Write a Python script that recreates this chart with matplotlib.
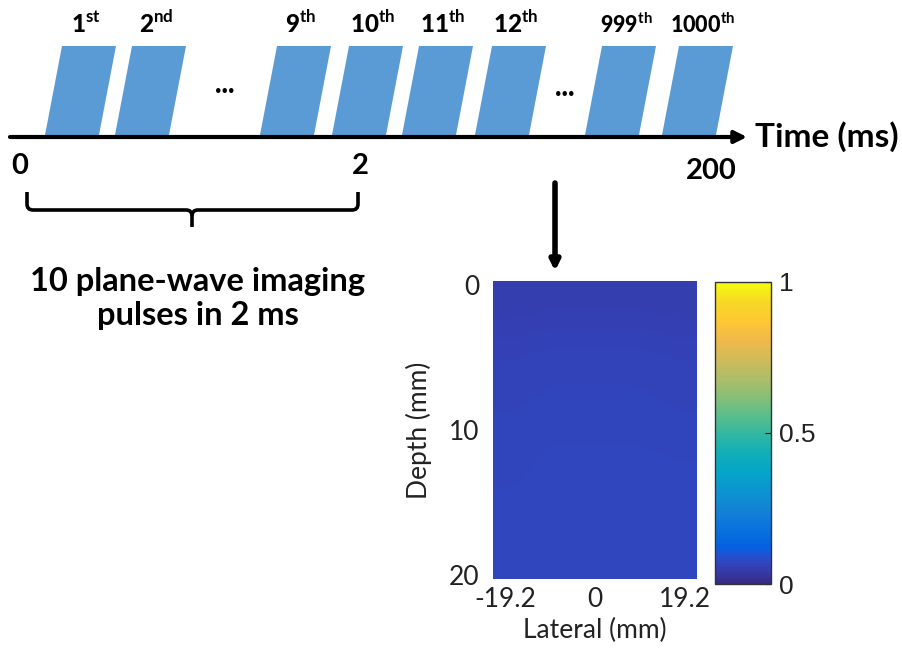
import numpy as np
import matplotlib
matplotlib.use('Agg')
import matplotlib.pyplot as plt
from matplotlib.colors import LinearSegmentedColormap
from matplotlib.patches import Polygon, PathPatch
from matplotlib.path import Path

plt.rcParams['font.family'] = ['Lato', 'DejaVu Sans']
plt.rcParams['mathtext.fontset'] = 'custom'
plt.rcParams['mathtext.rm'] = 'Lato'
plt.rcParams['mathtext.bf'] = 'Lato:bold'

# pulse sequence
pulse_numbers = ['1', '2', '9', '10', '11', '12', '999', '1000']
pulse_suffixes = ['st', 'nd', 'th', 'th', 'th', 'th', 'th', 'th']
time_ticks = ['0', '2', '200']
time_label = 'Time (ms)'
brace_label = '10 plane-wave imaging\npulses in 2 ms'

# image frame (normalised intensity, depth rows x lateral columns)
lateral_ticks = [-19.2, 0, 19.2]
depth_ticks = [0, 10, 20]
frame = [
    [0.052, 0.054, 0.054, 0.054, 0.052],
    [0.062, 0.064, 0.064, 0.064, 0.062],
    [0.066, 0.068, 0.068, 0.068, 0.066],
    [0.069, 0.071, 0.071, 0.071, 0.070],
    [0.071, 0.072, 0.072, 0.072, 0.072],
    [0.072, 0.073, 0.073, 0.073, 0.074],
]
cbar_ticks = [0, 0.5, 1]

# MATLAB parula (subset of the 64 table entries)
parula_rgb = [
    (0.2081, 0.1663, 0.5292), (0.2116, 0.1898, 0.5777), (0.2123, 0.2138, 0.6270),
    (0.2081, 0.2386, 0.6771), (0.1959, 0.2645, 0.7279), (0.1707, 0.2919, 0.7792),
    (0.1253, 0.3242, 0.8303), (0.0591, 0.3598, 0.8683), (0.0117, 0.3875, 0.8820),
    (0.0329, 0.4430, 0.8720), (0.0779, 0.5040, 0.8384), (0.0488, 0.5772, 0.8228),
    (0.0231, 0.6418, 0.7913), (0.0590, 0.6838, 0.7254), (0.1801, 0.7177, 0.6424),
    (0.3482, 0.7424, 0.5473), (0.5300, 0.7491, 0.4661), (0.6834, 0.7435, 0.4044),
    (0.8185, 0.7327, 0.3498), (0.9450, 0.7261, 0.2886), (0.9955, 0.7861, 0.1967),
    (0.9697, 0.8481, 0.1475), (0.9598, 0.9218, 0.0948), (0.9763, 0.9831, 0.0538),
]
parula_idx = [0, 1, 2, 3, 4, 5, 6, 7, 8, 11, 15, 19, 23, 27, 31, 35, 39, 43, 47, 51, 55, 59, 61, 63]
parula = LinearSegmentedColormap.from_list(
    'parula', [(i / 63, c) for i, c in zip(parula_idx, parula_rgb)])

W, H = 902, 648
fig = plt.figure(figsize=(W / 100, H / 100), dpi=100)

# diagram layer in pixel coordinates
dg = fig.add_axes([0, 0, 1, 1])
dg.set_xlim(0, W)
dg.set_ylim(H, 0)
dg.axis('off')

blue = '#5b9bd5'
pulse_left = [45, 115, 260, 332, 402, 475, 585, 662]
y_bot, y_top, slant, width = 135, 46, 17, 54
for x0, num, suf in zip(pulse_left, pulse_numbers, pulse_suffixes):
    dg.add_patch(Polygon([(x0, y_bot), (x0 + width, y_bot),
                          (x0 + width + slant, y_top), (x0 + slant, y_top)],
                         closed=True, color=blue, lw=0))
    fs = 15.5 if len(num) >= 3 else 17.5
    dg.text(x0 + width / 2 + slant - 3, 33, num + r'$^{\mathbf{' + suf + '}}$',
            ha='center', va='baseline', fontsize=fs, fontweight='black')

for xd, yd in [(225, 85), (565, 88)]:
    dg.text(xd, yd, '...', ha='center', va='center', fontsize=20, fontweight='black')

dg.annotate('', xy=(747, 137), xytext=(10, 137),
            arrowprops=dict(arrowstyle='-|>', lw=3, color='black',
                            mutation_scale=18, shrinkA=0, shrinkB=0))
dg.text(755, 137, time_label, ha='left', va='center', fontsize=24, fontweight='bold')
for tx, ty, lab in zip([20, 360, 711], [166, 166, 171], time_ticks):
    dg.text(tx, ty, lab, ha='center', va='center', fontsize=21, fontweight='bold')

# brace under 0..2 ms
brace_l = Path([(27, 192), (27, 204), (27, 210), (33, 210), (186, 210), (192, 210), (192, 216), (192, 227)],
               [Path.MOVETO, Path.LINETO, Path.CURVE3, Path.CURVE3, Path.LINETO, Path.CURVE3, Path.CURVE3, Path.LINETO])
brace_r = Path([(358, 192), (358, 204), (358, 210), (352, 210), (198, 210), (192, 210), (192, 216)],
               [Path.MOVETO, Path.LINETO, Path.CURVE3, Path.CURVE3, Path.LINETO, Path.CURVE3, Path.CURVE3])
for p in (brace_l, brace_r):
    dg.add_patch(PathPatch(p, fill=False, lw=2.6, color='black', capstyle='butt'))
dg.text(198, 325, brace_label, ha='center', va='baseline', fontsize=23.5,
        fontweight='bold', linespacing=1.2, multialignment='center')

dg.annotate('', xy=(555, 271), xytext=(555, 183),
            arrowprops=dict(arrowstyle='-|>', lw=4, color='black',
                            mutation_scale=14, shrinkA=0, shrinkB=0))

# image frame
ax = fig.add_axes([493 / W, (H - 579) / H, 204 / W, 298 / H])
im = ax.imshow(frame, cmap=parula, vmin=0, vmax=1, aspect='auto',
               interpolation='bilinear', extent=[-21.8, 21.8, 20.3, -0.3])
ax.set_xlim(-21.8, 21.8)
ax.set_ylim(20.3, -0.3)
ax.set_xticks(lateral_ticks)
ax.set_xticklabels(['-19.2', '0', '19.2'])
ax.set_yticks(depth_ticks)
ax.tick_params(length=0, labelsize=19, labelcolor='#222222')
ax.tick_params(axis='y', pad=10)
ax.tick_params(axis='x', pad=6)
for s in ax.spines.values():
    s.set_visible(False)
ax.set_xlabel('Lateral (mm)', fontsize=19, color='#222222', labelpad=4)
ax.set_ylabel('Depth (mm)', fontsize=19, color='#222222', labelpad=12)

cax = fig.add_axes([715 / W, (H - 584) / H, 56 / W, 302 / H])
cb = fig.colorbar(im, cax=cax, ticks=cbar_ticks)
cb.ax.set_yticklabels(['0', '0.5', '1'])
cb.ax.tick_params(direction='in', length=4, width=0.8, labelsize=19, pad=6,
                  labelcolor='#222222')
for t in cb.ax.get_yticklabels():
    t.set_fontfamily('Liberation Sans')
cb.outline.set_linewidth(1.0)
cb.outline.set_edgecolor('#333333')

fig.savefig('out.png', dpi=100)
